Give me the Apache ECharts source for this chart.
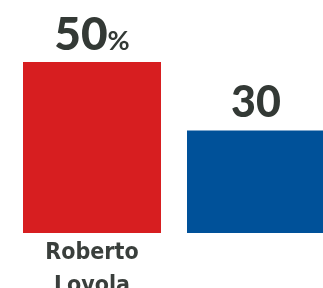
<!DOCTYPE html>
<html>
<head>
<meta charset="utf-8">
<script src="https://cdn.jsdelivr.net/npm/echarts@6/dist/echarts.min.js"></script>
<style>
  html, body { margin: 0; padding: 0; background: #fff; }
  #chart { width: 323px; height: 288px; }
</style>
</head>
<body>
<div id="chart"></div>
<script>
// candidatos y porcentaje
var candidates = ["Roberto\nLoyola", "Francisco\nDomínguez"];
var values = [50, 30];
var valueLabels = ["{n|50}{p|%}", "{m|30}"];
var barColors = ["#d71e20", "#005199"];

var chart = echarts.init(document.getElementById("chart"));
chart.setOption({
  animation: false,
  grid: { left: 10, right: -15, top: 62, bottom: 55, outerBoundsMode: "none", containLabel: false },
  xAxis: {
    type: "category",
    data: candidates,
    axisLine: { show: false },
    axisTick: { show: false },
    axisLabel: {
      margin: 4,
      color: "#3a3f3c",
      fontFamily: "DejaVu Sans Condensed, sans-serif",
      fontWeight: "bold",
      fontSize: 23,
      lineHeight: 33
    }
  },
  yAxis: {
    type: "value",
    min: 0,
    max: 50,
    show: false
  },
  series: [
    {
      type: "bar",
      barWidth: 138,
      data: values.map(function (v, i) {
        return {
          value: v,
          itemStyle: { color: barColors[i] },
          label: {
            formatter: valueLabels[i],
            distance: i === 0 ? 4 : 6
          }
        };
      }),
      label: {
        show: true,
        position: "top",
        rich: {
          n: {
            fontFamily: "Lato",
            fontWeight: 900,
            fontSize: 46,
            color: "#333935"
          },
          m: {
            fontFamily: "Lato",
            fontWeight: 900,
            fontSize: 43,
            color: "#333935"
          },
          p: {
            fontFamily: "Lato",
            fontWeight: 700,
            fontSize: 27,
            color: "#333935",
            padding: [12, 0, 0, 0]
          }
        }
      }
    }
  ]
});
</script>
</body>
</html>
